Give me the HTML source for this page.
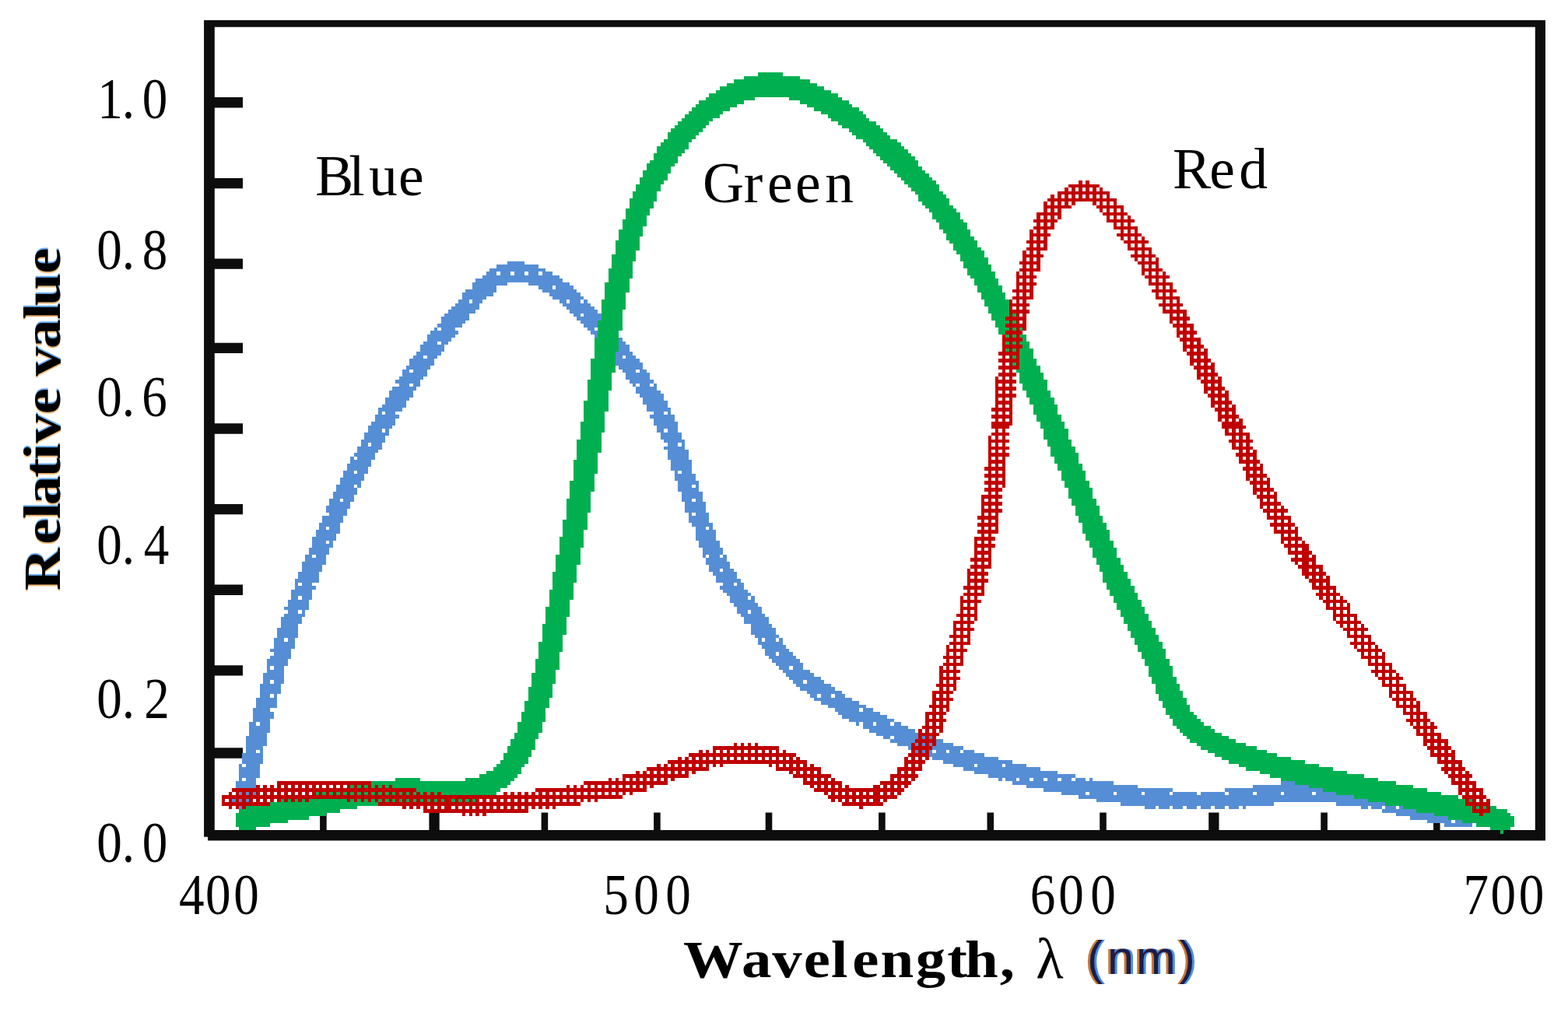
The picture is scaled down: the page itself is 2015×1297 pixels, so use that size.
<!DOCTYPE html>
<html lang="en"><head><meta charset="utf-8"><title>Relative value vs wavelength</title>
<style>
html,body{margin:0;padding:0;background:#fff}
body{width:2015px;height:1297px;overflow:hidden}
svg{display:block}
text{font-family:"Liberation Serif",serif;fill:#000}
.b{font-weight:bold}
.s{font-family:"Liberation Sans",sans-serif;fill:#1c1c4a}
</style></head><body>
<svg width="2015" height="1297" viewBox="0 0 2015 1297">
<rect width="2015" height="1297" fill="#fff"/>
<g fill="#0d0d0d"><path d="M262.1 26H1986V1080.6H267.1V1075.7H262.1ZM275.8 34.8V1067H1972.8V34.8Z" fill-rule="evenodd"/><path d="M275 125.1h37v13.4h-37zM275 228.9h37v13.4h-37zM275 332.4h37v13.4h-37zM275 440.7h37v13.4h-37zM275 544.3h37v13.4h-37zM275 647.9h37v13.4h-37zM275 751.6h37v13.4h-37zM275 855.2h37v13.4h-37zM275 961.3h37v13.4h-37zM411.1 1044.5h8.6v23h-8.6zM551.4 1044.5h13.3v23h-13.3zM695.6 1044.5h8.6v23h-8.6zM840.1 1044.5h8.6v23h-8.6zM983.7 1044.5h8.6v23h-8.6zM1129.1 1044.5h8.6v23h-8.6zM1268.5 1044.5h8.6v23h-8.6zM1413.2 1044.5h8.6v23h-8.6zM1553.2 1044.5h13.3v23h-13.3zM1697.3 1044.5h8.6v23h-8.6zM1842.0 1044.5h8.6v23h-8.6z"/></g>
<g transform="translate(2.5 -0.93) scale(4.4778 4.4878)" shape-rendering="crispEdges">
<path fill="#558ed5" d="M145 75h5v1h-5zM142 76h12v1h-12zM140 77h16v1h-16zM155 78h3v1h-3zM139 78h3v1h-3zM151 78h3v1h-3zM147 78h3v1h-3zM143 78h3v1h-3zM138 79h22v1h-22zM136 80h25v1h-25zM135 81h10v1h-10zM151 81h12v1h-12zM154 82h4v1h-4zM135 82h7v1h-7zM159 82h5v1h-5zM133 83h9v1h-9zM155 83h10v1h-10zM132 84h9v1h-9zM157 84h9v1h-9zM158 85h9v1h-9zM132 85h7v1h-7zM163 86h3v1h-3zM167 86h1v1h-1zM135 86h3v1h-3zM131 86h3v1h-3zM160 86h2v1h-2zM130 87h7v1h-7zM161 87h8v1h-8zM129 88h8v1h-8zM162 88h8v1h-8zM128 89h8v1h-8zM163 89h8v1h-8zM167 90h5v1h-5zM164 90h2v1h-2zM127 90h7v1h-7zM165 91h8v1h-8zM126 91h8v1h-8zM126 92h7v1h-7zM166 92h8v1h-8zM125 93h7v1h-7zM167 93h8v1h-8zM171 94h3v1h-3zM124 94h1v1h-1zM126 94h4v1h-4zM168 94h2v1h-2zM169 95h7v1h-7zM123 95h8v1h-8zM122 96h8v1h-8zM170 96h7v1h-7zM170 97h8v1h-8zM122 97h7v1h-7zM175 98h4v1h-4zM121 98h4v1h-4zM126 98h2v1h-2zM171 98h3v1h-3zM172 99h8v1h-8zM120 99h7v2h-7zM173 100h7v1h-7zM174 101h7v1h-7zM119 101h7v1h-7zM122 102h3v1h-3zM179 102h3v1h-3zM118 102h3v1h-3zM175 102h3v1h-3zM176 103h7v1h-7zM117 103h7v2h-7zM176 104h8v1h-8zM177 105h7v1h-7zM116 105h7v1h-7zM178 106h4v1h-4zM183 106h2v1h-2zM115 106h2v1h-2zM118 106h4v1h-4zM115 107h7v1h-7zM179 107h7v2h-7zM114 108h7v1h-7zM180 109h7v1h-7zM113 109h7v1h-7zM181 110h1v1h-1zM183 110h3v1h-3zM114 110h3v1h-3zM118 110h2v1h-2zM187 110h1v1h-1zM112 111h7v1h-7zM182 111h6v1h-6zM182 112h7v1h-7zM111 112h7v2h-7zM183 113h7v1h-7zM110 114h7v1h-7zM184 114h6v1h-6zM110 115h6v1h-6zM184 115h7v1h-7zM109 116h7v1h-7zM185 116h6v1h-6zM185 117h7v1h-7zM108 117h7v1h-7zM187 118h3v1h-3zM191 118h1v1h-1zM110 118h3v1h-3zM108 118h1v1h-1zM107 119h7v1h-7zM186 119h7v1h-7zM107 120h6v1h-6zM187 120h6v1h-6zM106 121h7v1h-7zM187 121h7v1h-7zM188 122h6v1h-6zM105 122h7v1h-7zM105 123h4v1h-4zM110 123h1v1h-1zM188 123h2v1h-2zM191 123h3v1h-3zM104 124h7v1h-7zM189 124h6v2h-6zM104 125h6v1h-6zM190 126h6v1h-6zM103 126h7v1h-7zM103 127h2v1h-2zM106 127h3v1h-3zM191 127h3v1h-3zM195 127h1v1h-1zM102 128h7v1h-7zM190 128h6v1h-6zM102 129h6v1h-6zM101 130h6v1h-6zM191 129h6v3h-6zM102 131h5v1h-5zM100 131h1v1h-1zM100 132h6v1h-6zM99 133h7v1h-7zM192 132h6v3h-6zM99 134h6v1h-6zM195 135h3v1h-3zM193 135h1v1h-1zM98 135h3v1h-3zM102 135h3v1h-3zM98 136h6v1h-6zM193 136h6v2h-6zM97 137h7v1h-7zM194 138h6v1h-6zM97 138h6v1h-6zM96 139h5v1h-5zM199 139h1v1h-1zM102 139h1v1h-1zM194 139h4v1h-4zM96 140h6v1h-6zM194 140h6v1h-6zM95 141h7v1h-7zM195 141h6v2h-6zM95 142h6v1h-6zM195 143h3v1h-3zM98 143h3v1h-3zM199 143h2v1h-2zM94 143h3v1h-3zM94 144h6v1h-6zM93 145h7v1h-7zM196 144h6v3h-6zM93 146h6v1h-6zM94 147h5v1h-5zM197 147h1v1h-1zM199 147h4v1h-4zM197 148h6v2h-6zM92 148h6v2h-6zM91 150h6v1h-6zM198 150h6v1h-6zM199 151h3v1h-3zM91 151h2v1h-2zM203 151h1v1h-1zM94 151h3v1h-3zM90 152h7v1h-7zM90 153h6v1h-6zM199 152h6v3h-6zM89 154h7v1h-7zM89 155h4v1h-4zM94 155h1v1h-1zM200 155h6v2h-6zM89 156h6v1h-6zM201 157h6v2h-6zM88 157h6v2h-6zM203 159h3v1h-3zM207 159h1v1h-1zM87 159h2v1h-2zM90 159h3v1h-3zM201 159h1v1h-1zM87 160h6v1h-6zM202 160h6v1h-6zM202 161h7v1h-7zM86 161h7v1h-7zM203 162h6v1h-6zM86 162h6v2h-6zM203 163h3v1h-3zM207 163h3v1h-3zM204 164h7v1h-7zM85 164h6v2h-6zM205 165h6v1h-6zM84 166h7v1h-7zM205 166h7v1h-7zM84 167h1v1h-1zM86 167h3v1h-3zM207 167h3v1h-3zM211 167h2v1h-2zM206 168h7v1h-7zM84 168h6v1h-6zM207 169h7v1h-7zM83 169h6v2h-6zM208 170h7v1h-7zM86 171h3v1h-3zM215 171h1v1h-1zM209 171h5v1h-5zM83 171h2v1h-2zM209 172h7v1h-7zM82 172h6v2h-6zM210 173h7v1h-7zM211 174h7v1h-7zM81 174h7v1h-7zM211 175h3v1h-3zM215 175h3v1h-3zM82 175h3v1h-3zM86 175h1v1h-1zM212 176h7v1h-7zM81 176h6v1h-6zM80 177h6v2h-6zM213 177h7v2h-7zM80 179h5v1h-5zM215 179h6v1h-6zM215 180h7v2h-7zM79 180h6v3h-6zM216 182h7v1h-7zM223 183h1v1h-1zM78 183h3v1h-3zM82 183h2v1h-2zM219 183h3v1h-3zM217 183h1v1h-1zM217 184h7v1h-7zM78 184h6v2h-6zM218 185h7v1h-7zM77 186h6v1h-6zM219 186h7v1h-7zM78 187h5v1h-5zM223 187h4v1h-4zM219 187h3v1h-3zM77 188h6v1h-6zM220 188h8v1h-8zM221 189h8v1h-8zM76 189h6v2h-6zM222 190h8v1h-8zM78 191h3v1h-3zM227 191h3v1h-3zM223 191h3v1h-3zM76 191h1v1h-1zM76 192h5v1h-5zM224 192h8v1h-8zM225 193h8v1h-8zM75 193h6v2h-6zM226 194h9v1h-9zM78 195h3v1h-3zM227 195h3v1h-3zM231 195h5v1h-5zM75 195h2v1h-2zM228 196h10v1h-10zM229 197h10v1h-10zM74 196h6v3h-6zM231 198h10v1h-10zM239 199h3v1h-3zM74 199h3v1h-3zM232 199h2v1h-2zM235 199h3v1h-3zM78 199h1v1h-1zM233 200h11v1h-11zM235 201h11v1h-11zM73 200h6v3h-6zM237 202h11v1h-11zM72 203h5v1h-5zM247 203h3v1h-3zM239 203h7v1h-7zM240 204h12v1h-12zM72 204h6v2h-6zM241 205h13v1h-13zM72 206h5v1h-5zM243 206h13v1h-13zM251 207h4v1h-4zM245 207h1v1h-1zM247 207h3v1h-3zM71 207h2v1h-2zM74 207h3v1h-3zM256 207h2v1h-2zM247 208h13v1h-13zM71 208h6v2h-6zM249 209h13v1h-13zM251 210h14v1h-14zM71 210h5v1h-5zM264 211h3v1h-3zM256 211h7v1h-7zM253 211h2v1h-2zM255 212h15v1h-15zM70 211h6v3h-6zM257 213h16v1h-16zM260 214h16v1h-16zM70 214h5v1h-5zM74 215h1v1h-1zM272 215h3v1h-3zM70 215h3v1h-3zM276 215h3v1h-3zM268 215h3v1h-3zM264 215h3v1h-3zM262 215h1v1h-1zM265 216h17v1h-17zM267 217h19v1h-19zM69 216h6v3h-6zM270 218h20v1h-20zM68 219h1v1h-1zM280 219h7v1h-7zM288 219h6v1h-6zM273 219h6v1h-6zM70 219h4v1h-4zM276 220h22v1h-22zM279 221h24v1h-24zM68 220h6v3h-6zM283 222h25v1h-25zM68 223h1v1h-1zM286 223h1v1h-1zM288 223h3v1h-3zM300 223h3v1h-3zM70 223h3v1h-3zM296 223h3v1h-3zM308 223h3v1h-3zM292 223h3v1h-3zM304 223h3v1h-3zM312 223h1v1h-1zM367 224h13v1h-13zM290 224h29v1h-29zM359 225h30v1h-30zM294 225h32v1h-32zM67 224h6v3h-6zM351 226h44v1h-44zM299 226h37v1h-37zM312 227h7v1h-7zM352 227h7v1h-7zM336 227h7v1h-7zM320 227h7v1h-7zM304 227h7v1h-7zM70 227h3v1h-3zM385 227h7v1h-7zM393 227h7v1h-7zM360 227h7v1h-7zM344 227h7v1h-7zM328 227h7v1h-7zM377 227h7v1h-7zM67 227h2v1h-2zM368 227h8v1h-8zM67 228h5v1h-5zM309 228h95v1h-95zM314 229h94v1h-94zM66 229h6v2h-6zM383 230h30v1h-30zM321 230h44v1h-44zM409 231h3v1h-3zM413 231h3v1h-3zM336 231h3v1h-3zM421 231h1v1h-1zM417 231h3v1h-3zM393 231h3v1h-3zM340 231h3v1h-3zM344 231h3v1h-3zM397 231h3v1h-3zM356 231h1v1h-1zM401 231h3v1h-3zM348 231h3v1h-3zM67 231h2v1h-2zM328 231h3v1h-3zM70 231h1v1h-1zM405 231h3v1h-3zM352 231h3v1h-3zM332 231h3v1h-3zM390 231h2v1h-2zM69 232h1v1h-1zM396 232h27v1h-27zM400 233h24v1h-24zM404 234h20v1h-20zM417 235h6v1h-6zM409 235h7v1h-7zM414 236h8v1h-8z"/>
<path fill="#00b050" d="M217 21h7v1h-7zM213 22h16v1h-16zM210 23h22v1h-22zM208 24h26v1h-26zM206 25h30v1h-30zM205 26h33v1h-33zM203 27h37v1h-37zM202 28h14v1h-14zM226 28h15v1h-15zM229 29h14v1h-14zM200 29h13v1h-13zM231 30h13v1h-13zM199 30h12v1h-12zM198 31h11v1h-11zM233 31h13v1h-13zM197 32h10v1h-10zM235 32h12v1h-12zM237 33h11v1h-11zM196 33h10v1h-10zM195 34h9v1h-9zM238 34h11v1h-11zM240 35h11v1h-11zM194 35h9v1h-9zM193 36h9v1h-9zM241 36h11v1h-11zM243 37h10v1h-10zM192 37h9v1h-9zM244 38h10v1h-10zM191 38h9v1h-9zM191 39h8v1h-8zM245 39h10v1h-10zM190 40h8v1h-8zM247 40h10v1h-10zM189 41h8v1h-8zM248 41h10v1h-10zM249 42h10v1h-10zM188 42h9v1h-9zM188 43h8v1h-8zM250 43h10v1h-10zM187 44h8v1h-8zM251 44h10v1h-10zM252 45h10v1h-10zM187 45h7v1h-7zM186 46h8v1h-8zM253 46h10v1h-10zM254 47h9v1h-9zM185 47h8v1h-8zM185 48h7v1h-7zM255 48h9v1h-9zM184 49h8v1h-8zM256 49h9v1h-9zM257 50h9v1h-9zM184 50h7v1h-7zM258 51h9v1h-9zM183 51h8v1h-8zM183 52h7v1h-7zM259 52h9v1h-9zM260 53h9v1h-9zM182 53h7v2h-7zM261 54h8v1h-8zM262 55h8v1h-8zM181 55h7v2h-7zM263 56h8v1h-8zM263 57h9v1h-9zM180 57h8v1h-8zM264 58h8v1h-8zM180 58h7v2h-7zM265 59h8v1h-8zM266 60h8v1h-8zM179 60h7v2h-7zM267 61h8v2h-8zM179 62h6v1h-6zM268 63h8v1h-8zM178 63h7v2h-7zM269 64h8v2h-8zM178 65h6v1h-6zM270 66h8v1h-8zM177 66h7v2h-7zM271 67h7v1h-7zM177 68h6v1h-6zM271 68h8v1h-8zM272 69h8v1h-8zM273 70h7v1h-7zM176 69h7v3h-7zM273 71h8v1h-8zM274 72h8v1h-8zM176 72h6v1h-6zM275 73h7v1h-7zM175 73h7v2h-7zM275 74h8v1h-8zM276 75h7v1h-7zM175 75h6v2h-6zM276 76h8v1h-8zM277 77h7v1h-7zM277 78h8v1h-8zM174 77h7v3h-7zM278 79h7v1h-7zM174 80h6v1h-6zM279 80h7v2h-7zM173 81h7v3h-7zM280 82h7v2h-7zM173 84h6v2h-6zM281 84h7v2h-7zM282 86h7v2h-7zM172 86h7v3h-7zM283 88h7v2h-7zM172 89h6v3h-6zM284 90h7v2h-7zM285 92h7v2h-7zM171 92h7v3h-7zM286 94h7v2h-7zM171 95h6v2h-6zM287 96h7v2h-7zM287 98h8v1h-8zM288 99h7v1h-7zM170 97h7v4h-7zM288 100h8v1h-8zM289 101h7v2h-7zM170 101h6v2h-6zM290 103h7v2h-7zM169 103h7v4h-7zM291 105h7v2h-7zM169 107h6v2h-6zM292 107h7v2h-7zM292 109h8v1h-8zM168 109h7v3h-7zM293 110h7v2h-7zM294 112h7v2h-7zM168 112h6v3h-6zM295 114h7v2h-7zM167 115h7v3h-7zM296 116h7v3h-7zM167 118h6v3h-6zM297 119h7v2h-7zM298 121h7v2h-7zM166 121h7v3h-7zM299 123h7v3h-7zM166 124h6v2h-6zM300 126h7v2h-7zM165 126h7v4h-7zM301 128h7v2h-7zM301 130h8v1h-8zM165 130h6v2h-6zM302 131h7v2h-7zM303 133h7v2h-7zM164 132h7v4h-7zM304 135h7v3h-7zM164 136h6v2h-6zM305 138h7v2h-7zM163 138h7v3h-7zM306 140h7v3h-7zM163 141h6v2h-6zM307 143h7v2h-7zM162 143h7v4h-7zM308 145h7v3h-7zM162 147h6v2h-6zM309 148h7v2h-7zM161 149h7v3h-7zM310 150h7v2h-7zM310 152h8v1h-8zM161 152h6v2h-6zM311 153h7v2h-7zM160 154h7v3h-7zM312 155h7v2h-7zM160 157h6v2h-6zM313 157h7v3h-7zM159 159h7v3h-7zM314 160h7v2h-7zM315 162h7v2h-7zM159 162h6v2h-6zM316 164h7v2h-7zM158 164h7v3h-7zM316 166h8v1h-8zM317 167h7v1h-7zM158 167h6v2h-6zM317 168h8v1h-8zM318 169h7v1h-7zM318 170h8v1h-8zM157 169h7v3h-7zM319 171h7v1h-7zM319 172h8v1h-8zM157 172h6v2h-6zM320 173h7v1h-7zM320 174h8v1h-8zM321 175h7v1h-7zM156 174h7v3h-7zM321 176h8v1h-8zM322 177h7v1h-7zM156 177h6v2h-6zM322 178h8v1h-8zM323 179h7v1h-7zM323 180h8v1h-8zM155 179h7v3h-7zM324 181h7v1h-7zM324 182h8v1h-8zM155 182h6v2h-6zM325 183h7v1h-7zM325 184h8v1h-8zM326 185h7v1h-7zM154 184h7v3h-7zM326 186h8v1h-8zM327 187h7v2h-7zM154 187h6v2h-6zM328 189h7v2h-7zM153 189h7v3h-7zM153 192h6v1h-6zM329 191h7v3h-7zM152 193h7v3h-7zM330 194h7v2h-7zM152 196h6v1h-6zM331 196h7v2h-7zM331 198h8v1h-8zM151 197h7v3h-7zM332 199h7v1h-7zM151 200h6v1h-6zM332 200h8v1h-8zM333 201h7v1h-7zM150 201h7v2h-7zM333 202h8v1h-8zM150 203h6v1h-6zM334 203h7v1h-7zM334 204h8v1h-8zM335 205h8v1h-8zM149 204h7v3h-7zM336 206h8v1h-8zM336 207h9v1h-9zM337 208h10v1h-10zM148 207h7v3h-7zM338 209h10v1h-10zM339 210h11v1h-11zM147 210h7v2h-7zM340 211h12v1h-12zM341 212h13v1h-13zM146 212h7v2h-7zM343 213h14v1h-14zM344 214h16v1h-16zM145 214h8v1h-8zM346 215h17v1h-17zM145 215h7v1h-7zM348 216h18v1h-18zM144 216h8v1h-8zM144 217h7v1h-7zM350 217h20v1h-20zM352 218h22v1h-22zM143 218h8v1h-8zM142 219h8v1h-8zM355 219h23v1h-23zM141 220h8v1h-8zM357 220h25v1h-25zM361 221h25v1h-25zM139 221h10v1h-10zM137 222h11v1h-11zM364 222h27v1h-27zM367 223h28v1h-28zM133 223h14v1h-14zM113 223h7v1h-7zM371 224h29v1h-29zM104 224h42v1h-42zM375 225h30v1h-30zM99 225h46v1h-46zM94 226h49v1h-49zM379 226h30v1h-30zM90 227h52v1h-52zM383 227h30v1h-30zM388 228h30v1h-30zM85 228h54v1h-54zM79 229h57v1h-57zM392 229h30v1h-30zM74 230h34v1h-34zM397 230h29v1h-29zM70 231h32v1h-32zM402 231h27v1h-27zM406 232h26v1h-26zM68 232h29v1h-29zM411 233h22v1h-22zM67 233h26v1h-26zM67 234h21v1h-21zM415 234h19v1h-19zM67 235h15v1h-15zM419 235h15v1h-15zM67 236h10v1h-10zM423 236h11v1h-11zM427 237h6v1h-6zM68 237h5v1h-5zM430 238h1v1h-1z"/>
<path fill="#c00000" d="M311 52h1v1h-1zM309 52h1v1h-1zM306 53h9v1h-9zM307 54h1v1h-1zM313 54h1v1h-1zM311 54h1v1h-1zM309 54h1v1h-1zM315 54h1v1h-1zM305 54h1v1h-1zM303 55h15v1h-15zM307 56h1v1h-1zM313 56h1v1h-1zM303 56h1v1h-1zM311 56h1v1h-1zM309 56h1v1h-1zM315 56h1v1h-1zM305 56h1v1h-1zM317 56h1v1h-1zM301 56h1v1h-1zM300 57h20v1h-20zM307 58h1v1h-1zM313 58h1v1h-1zM319 58h1v1h-1zM303 58h1v1h-1zM315 58h1v1h-1zM299 58h1v1h-1zM305 58h1v1h-1zM317 58h1v1h-1zM301 58h1v1h-1zM299 59h8v1h-8zM314 59h8v1h-8zM321 60h1v1h-1zM319 60h1v1h-1zM303 60h1v1h-1zM315 60h1v1h-1zM299 60h1v1h-1zM317 60h1v1h-1zM301 60h1v1h-1zM316 61h7v1h-7zM297 61h7v1h-7zM321 62h1v1h-1zM297 62h1v1h-1zM303 62h1v1h-1zM319 62h1v1h-1zM323 62h1v1h-1zM299 62h1v1h-1zM317 62h1v1h-1zM301 62h1v1h-1zM317 63h8v1h-8zM296 63h7v1h-7zM321 64h1v1h-1zM319 64h1v1h-1zM297 64h1v1h-1zM323 64h1v1h-1zM299 64h1v1h-1zM301 64h1v1h-1zM319 65h7v1h-7zM296 65h6v1h-6zM321 66h1v1h-1zM297 66h1v1h-1zM325 66h1v1h-1zM323 66h1v1h-1zM299 66h1v1h-1zM295 66h1v1h-1zM295 67h6v1h-6zM320 67h7v1h-7zM321 68h1v1h-1zM297 68h1v1h-1zM327 68h1v1h-1zM325 68h1v1h-1zM323 68h1v1h-1zM299 68h1v1h-1zM295 68h1v1h-1zM294 69h6v1h-6zM322 69h7v1h-7zM297 70h1v1h-1zM327 70h1v1h-1zM325 70h1v1h-1zM323 70h1v1h-1zM299 70h1v1h-1zM295 70h1v1h-1zM294 71h6v1h-6zM323 71h7v1h-7zM329 72h1v1h-1zM297 72h1v1h-1zM327 72h1v1h-1zM325 72h1v1h-1zM293 72h1v1h-1zM295 72h1v1h-1zM324 73h7v1h-7zM293 73h6v1h-6zM329 74h1v1h-1zM297 74h1v1h-1zM327 74h1v1h-1zM325 74h1v1h-1zM293 74h1v1h-1zM295 74h1v1h-1zM331 74h1v1h-1zM326 75h6v1h-6zM292 75h6v1h-6zM329 76h1v1h-1zM297 76h1v1h-1zM327 76h1v1h-1zM293 76h1v1h-1zM295 76h1v1h-1zM331 76h1v1h-1zM327 77h6v1h-6zM292 77h6v1h-6zM291 78h1v1h-1zM329 78h1v1h-1zM327 78h1v1h-1zM293 78h1v1h-1zM333 78h1v1h-1zM295 78h1v1h-1zM331 78h1v1h-1zM291 79h6v1h-6zM328 79h7v1h-7zM291 80h1v1h-1zM329 80h1v1h-1zM293 80h1v1h-1zM333 80h1v1h-1zM295 80h1v1h-1zM331 80h1v1h-1zM291 81h6v1h-6zM329 81h7v1h-7zM291 82h1v1h-1zM293 82h1v1h-1zM335 82h1v1h-1zM295 82h1v1h-1zM333 82h1v1h-1zM331 82h1v1h-1zM330 83h7v1h-7zM290 83h6v1h-6zM291 84h1v1h-1zM293 84h1v1h-1zM335 84h1v1h-1zM295 84h1v1h-1zM333 84h1v1h-1zM331 84h1v1h-1zM290 85h6v1h-6zM331 85h7v1h-7zM291 86h1v1h-1zM337 86h1v1h-1zM293 86h1v1h-1zM289 86h1v1h-1zM335 86h1v1h-1zM333 86h1v1h-1zM289 87h6v1h-6zM332 87h7v1h-7zM291 88h1v1h-1zM337 88h1v1h-1zM293 88h1v1h-1zM289 88h1v1h-1zM335 88h1v1h-1zM333 88h1v1h-1zM289 89h6v1h-6zM333 89h7v1h-7zM291 90h1v1h-1zM337 90h1v1h-1zM293 90h1v1h-1zM339 90h1v1h-1zM289 90h1v1h-1zM335 90h1v1h-1zM288 91h6v1h-6zM335 91h6v1h-6zM291 92h1v1h-1zM337 92h1v1h-1zM293 92h1v1h-1zM339 92h1v1h-1zM289 92h1v1h-1zM335 92h1v1h-1zM288 93h6v1h-6zM336 93h6v1h-6zM291 94h1v1h-1zM337 94h1v1h-1zM341 94h1v1h-1zM339 94h1v1h-1zM293 94h1v1h-1zM289 94h1v1h-1zM337 95h6v1h-6zM288 95h5v1h-5zM291 96h1v1h-1zM337 96h1v1h-1zM341 96h1v1h-1zM287 96h1v1h-1zM339 96h1v1h-1zM289 96h1v1h-1zM338 97h6v1h-6zM287 97h6v1h-6zM291 98h1v1h-1zM341 98h1v1h-1zM287 98h1v1h-1zM339 98h1v1h-1zM289 98h1v1h-1zM343 98h1v1h-1zM287 99h6v1h-6zM339 99h6v1h-6zM345 100h1v1h-1zM291 100h1v1h-1zM341 100h1v1h-1zM287 100h1v1h-1zM339 100h1v1h-1zM289 100h1v1h-1zM343 100h1v1h-1zM286 101h6v1h-6zM340 101h6v1h-6zM345 102h1v1h-1zM291 102h1v1h-1zM341 102h1v1h-1zM287 102h1v1h-1zM289 102h1v1h-1zM343 102h1v1h-1zM286 103h6v1h-6zM341 103h6v1h-6zM345 104h1v1h-1zM291 104h1v1h-1zM341 104h1v1h-1zM287 104h1v1h-1zM289 104h1v1h-1zM343 104h1v1h-1zM347 104h1v1h-1zM286 105h6v1h-6zM342 105h6v1h-6zM345 106h1v1h-1zM287 106h1v1h-1zM289 106h1v1h-1zM343 106h1v1h-1zM347 106h1v1h-1zM286 107h5v1h-5zM343 107h6v1h-6zM345 108h1v1h-1zM349 108h1v1h-1zM287 108h1v1h-1zM289 108h1v1h-1zM285 108h1v1h-1zM343 108h1v1h-1zM347 108h1v1h-1zM344 109h6v1h-6zM285 109h6v1h-6zM345 110h1v1h-1zM349 110h1v1h-1zM287 110h1v1h-1zM289 110h1v1h-1zM285 110h1v1h-1zM347 110h1v1h-1zM345 111h6v1h-6zM285 111h6v1h-6zM345 112h1v1h-1zM351 112h1v1h-1zM349 112h1v1h-1zM287 112h1v1h-1zM289 112h1v1h-1zM285 112h1v1h-1zM347 112h1v1h-1zM346 113h6v1h-6zM285 113h6v1h-6zM351 114h1v1h-1zM349 114h1v1h-1zM287 114h1v1h-1zM289 114h1v1h-1zM285 114h1v1h-1zM347 114h1v1h-1zM285 115h5v1h-5zM347 115h6v1h-6zM353 116h1v1h-1zM351 116h1v1h-1zM349 116h1v1h-1zM287 116h1v1h-1zM289 116h1v1h-1zM285 116h1v1h-1zM347 116h1v1h-1zM348 117h6v1h-6zM284 117h6v1h-6zM353 118h1v1h-1zM351 118h1v1h-1zM349 118h1v1h-1zM287 118h1v1h-1zM289 118h1v1h-1zM285 118h1v1h-1zM349 119h6v1h-6zM284 119h6v1h-6zM353 120h1v1h-1zM351 120h1v1h-1zM349 120h1v1h-1zM287 120h1v1h-1zM289 120h1v1h-1zM285 120h1v1h-1zM355 120h1v1h-1zM284 121h6v1h-6zM350 121h6v1h-6zM350 122h7v1h-7zM284 122h5v1h-5zM353 123h1v1h-1zM351 123h1v1h-1zM287 123h1v1h-1zM285 123h1v1h-1zM355 123h1v1h-1zM284 124h5v1h-5zM351 124h7v1h-7zM353 125h1v1h-1zM287 125h1v1h-1zM283 125h1v1h-1zM285 125h1v1h-1zM357 125h1v1h-1zM355 125h1v1h-1zM283 126h6v1h-6zM352 126h7v1h-7zM353 127h1v1h-1zM287 127h1v1h-1zM283 127h1v1h-1zM285 127h1v1h-1zM357 127h1v1h-1zM355 127h1v1h-1zM283 128h6v1h-6zM353 128h6v1h-6zM287 129h1v1h-1zM283 129h1v1h-1zM285 129h1v1h-1zM359 129h1v1h-1zM357 129h1v1h-1zM355 129h1v1h-1zM283 130h6v1h-6zM354 130h6v1h-6zM287 131h1v1h-1zM283 131h1v1h-1zM285 131h1v1h-1zM359 131h1v1h-1zM357 131h1v1h-1zM355 131h1v1h-1zM355 132h6v1h-6zM283 132h5v1h-5zM287 133h1v1h-1zM361 133h1v1h-1zM283 133h1v1h-1zM285 133h1v1h-1zM359 133h1v1h-1zM357 133h1v1h-1zM282 134h6v1h-6zM356 134h6v1h-6zM287 135h1v1h-1zM361 135h1v1h-1zM283 135h1v1h-1zM285 135h1v1h-1zM359 135h1v1h-1zM357 135h1v1h-1zM357 136h6v1h-6zM282 136h6v1h-6zM287 137h1v1h-1zM361 137h1v1h-1zM283 137h1v1h-1zM285 137h1v1h-1zM359 137h1v1h-1zM357 137h1v1h-1zM363 137h1v1h-1zM282 138h6v1h-6zM358 138h6v1h-6zM287 139h1v1h-1zM361 139h1v1h-1zM283 139h1v1h-1zM285 139h1v1h-1zM359 139h1v1h-1zM363 139h1v1h-1zM359 140h6v1h-6zM282 140h5v1h-5zM365 141h1v1h-1zM361 141h1v1h-1zM283 141h1v1h-1zM285 141h1v1h-1zM359 141h1v1h-1zM363 141h1v1h-1zM281 142h6v1h-6zM360 142h6v1h-6zM281 143h1v1h-1zM365 143h1v1h-1zM361 143h1v1h-1zM283 143h1v1h-1zM285 143h1v1h-1zM363 143h1v1h-1zM281 144h6v1h-6zM361 144h6v1h-6zM281 145h1v1h-1zM365 145h1v1h-1zM361 145h1v1h-1zM283 145h1v1h-1zM285 145h1v1h-1zM367 145h1v1h-1zM363 145h1v1h-1zM281 146h6v1h-6zM362 146h7v1h-7zM365 147h1v1h-1zM281 147h1v1h-1zM283 147h1v1h-1zM285 147h1v1h-1zM367 147h1v1h-1zM363 147h1v1h-1zM280 148h6v1h-6zM363 148h7v1h-7zM365 149h1v1h-1zM281 149h1v1h-1zM283 149h1v1h-1zM285 149h1v1h-1zM367 149h1v1h-1zM369 149h1v1h-1zM280 150h6v1h-6zM364 150h7v1h-7zM365 151h1v1h-1zM281 151h1v1h-1zM283 151h1v1h-1zM285 151h1v1h-1zM367 151h1v1h-1zM371 151h1v1h-1zM369 151h1v1h-1zM280 152h6v1h-6zM365 152h7v1h-7zM281 153h1v1h-1zM283 153h1v1h-1zM367 153h1v1h-1zM371 153h1v1h-1zM369 153h1v1h-1zM367 154h6v1h-6zM279 154h6v1h-6zM281 155h1v1h-1zM283 155h1v1h-1zM373 155h1v1h-1zM367 155h1v1h-1zM371 155h1v1h-1zM279 155h1v1h-1zM369 155h1v1h-1zM279 156h6v1h-6zM368 156h7v1h-7zM281 157h1v1h-1zM373 157h2v1h-2zM283 157h1v1h-1zM371 157h1v1h-1zM279 157h1v1h-1zM369 157h1v1h-1zM279 158h5v1h-5zM369 158h7v1h-7zM373 159h2v1h-2zM281 159h1v1h-1zM283 159h1v1h-1zM376 159h1v1h-1zM371 159h1v1h-1zM279 159h1v1h-1zM278 160h6v1h-6zM370 160h7v1h-7zM373 161h2v1h-2zM281 161h1v1h-1zM283 161h1v1h-1zM376 161h1v1h-1zM371 161h1v1h-1zM279 161h1v1h-1zM372 162h7v1h-7zM278 162h6v1h-6zM373 163h2v1h-2zM281 163h1v1h-1zM277 163h1v1h-1zM378 163h1v1h-1zM376 163h1v1h-1zM279 163h1v1h-1zM373 164h7v1h-7zM277 164h6v1h-6zM380 165h1v1h-1zM281 165h1v1h-1zM279 165h1v1h-1zM277 165h1v1h-1zM378 165h1v1h-1zM376 165h1v1h-1zM374 165h1v1h-1zM375 166h6v1h-6zM277 166h6v1h-6zM380 167h1v1h-1zM281 167h1v1h-1zM277 167h1v1h-1zM378 167h1v1h-1zM376 167h1v1h-1zM279 167h1v1h-1zM276 168h6v1h-6zM376 168h7v1h-7zM380 169h1v1h-1zM281 169h1v1h-1zM382 169h1v1h-1zM277 169h1v1h-1zM378 169h1v1h-1zM279 169h1v1h-1zM276 170h6v1h-6zM377 170h7v1h-7zM380 171h1v1h-1zM275 171h1v1h-1zM382 171h1v1h-1zM277 171h1v1h-1zM378 171h1v1h-1zM384 171h1v1h-1zM279 171h1v1h-1zM275 172h6v1h-6zM379 172h7v1h-7zM380 173h1v1h-1zM386 173h1v1h-1zM275 173h1v1h-1zM382 173h1v1h-1zM277 173h1v1h-1zM384 173h1v1h-1zM279 173h1v1h-1zM275 174h5v1h-5zM380 174h7v1h-7zM386 175h1v1h-1zM275 175h1v1h-1zM382 175h1v1h-1zM277 175h1v1h-1zM384 175h1v1h-1zM279 175h1v1h-1zM382 176h7v1h-7zM274 176h6v1h-6zM386 177h1v1h-1zM275 177h1v1h-1zM382 177h1v1h-1zM277 177h1v1h-1zM388 177h1v1h-1zM384 177h1v1h-1zM279 177h1v1h-1zM383 178h7v1h-7zM273 178h6v1h-6zM386 179h1v1h-1zM275 179h1v1h-1zM277 179h1v1h-1zM273 179h1v1h-1zM388 179h1v1h-1zM384 179h1v1h-1zM390 179h1v1h-1zM273 180h6v1h-6zM385 180h7v1h-7zM386 181h1v1h-1zM275 181h1v1h-1zM277 181h1v1h-1zM273 181h1v1h-1zM388 181h1v1h-1zM390 181h1v1h-1zM272 182h6v1h-6zM386 182h7v1h-7zM275 183h1v1h-1zM392 183h1v1h-1zM277 183h1v1h-1zM273 183h1v1h-1zM388 183h1v1h-1zM390 183h1v1h-1zM272 184h6v1h-6zM387 184h7v1h-7zM275 185h1v1h-1zM392 185h1v1h-1zM271 185h1v1h-1zM394 185h1v1h-1zM273 185h1v1h-1zM388 185h1v1h-1zM390 185h1v1h-1zM389 186h7v1h-7zM271 186h6v1h-6zM275 187h1v1h-1zM392 187h1v1h-1zM271 187h1v1h-1zM394 187h1v1h-1zM273 187h1v1h-1zM390 187h1v1h-1zM396 187h1v1h-1zM270 188h6v1h-6zM390 188h7v1h-7zM275 189h1v1h-1zM392 189h1v1h-1zM271 189h1v1h-1zM394 189h1v1h-1zM273 189h1v1h-1zM396 189h1v1h-1zM270 190h6v1h-6zM392 190h7v1h-7zM269 191h1v1h-1zM398 191h1v1h-1zM271 191h1v1h-1zM394 191h1v1h-1zM273 191h1v1h-1zM396 191h1v1h-1zM393 192h7v1h-7zM269 192h6v1h-6zM269 193h1v1h-1zM398 193h1v1h-1zM271 193h1v1h-1zM394 193h1v1h-1zM273 193h1v1h-1zM400 193h1v1h-1zM396 193h1v1h-1zM395 194h7v1h-7zM269 194h6v1h-6zM269 195h1v1h-1zM398 195h1v1h-1zM271 195h1v1h-1zM273 195h1v1h-1zM400 195h1v1h-1zM396 195h1v1h-1zM268 196h6v1h-6zM396 196h7v1h-7zM269 197h1v1h-1zM402 197h1v1h-1zM398 197h1v1h-1zM271 197h1v1h-1zM273 197h1v1h-1zM400 197h1v1h-1zM267 198h6v1h-6zM398 198h7v1h-7zM269 199h1v1h-1zM402 199h1v1h-1zM398 199h1v1h-1zM271 199h1v1h-1zM404 199h1v1h-1zM400 199h1v1h-1zM267 199h1v1h-1zM267 200h6v1h-6zM399 200h7v1h-7zM269 201h1v1h-1zM402 201h1v1h-1zM271 201h1v1h-1zM406 201h1v1h-1zM404 201h1v1h-1zM400 201h1v1h-1zM267 201h1v1h-1zM400 202h7v1h-7zM266 202h6v1h-6zM269 203h1v1h-1zM402 203h1v1h-1zM271 203h1v1h-1zM406 203h1v1h-1zM404 203h1v1h-1zM267 203h1v1h-1zM402 204h7v1h-7zM265 204h6v1h-6zM269 205h1v1h-1zM408 205h1v1h-1zM265 205h1v1h-1zM406 205h1v1h-1zM404 205h1v1h-1zM267 205h1v1h-1zM403 206h7v1h-7zM265 206h6v1h-6zM269 207h1v1h-1zM408 207h1v1h-1zM265 207h1v1h-1zM410 207h1v1h-1zM406 207h1v1h-1zM404 207h1v1h-1zM267 207h1v1h-1zM264 208h6v1h-6zM405 208h7v1h-7zM269 209h1v1h-1zM408 209h1v1h-1zM265 209h1v1h-1zM410 209h1v1h-1zM406 209h1v1h-1zM267 209h1v1h-1zM263 209h1v1h-1zM406 210h7v1h-7zM263 210h6v1h-6zM408 211h1v1h-1zM265 211h1v1h-1zM410 211h1v1h-1zM267 211h1v1h-1zM412 211h1v1h-1zM263 211h1v1h-1zM408 212h7v1h-7zM262 212h6v1h-6zM210 213h1v1h-1zM408 213h1v1h-1zM216 213h1v1h-1zM265 213h1v1h-1zM410 213h1v1h-1zM212 213h1v1h-1zM261 213h1v1h-1zM214 213h1v1h-1zM414 213h1v1h-1zM267 213h1v1h-1zM412 213h1v1h-1zM263 213h1v1h-1zM204 214h19v1h-19zM409 214h7v1h-7zM261 214h6v1h-6zM210 215h1v1h-1zM265 215h1v1h-1zM410 215h1v1h-1zM212 215h1v1h-1zM214 215h1v1h-1zM412 215h1v1h-1zM216 215h1v1h-1zM218 215h1v1h-1zM414 215h1v1h-1zM416 215h1v1h-1zM220 215h1v1h-1zM200 215h1v1h-1zM222 215h1v1h-1zM202 215h1v1h-1zM224 215h1v1h-1zM204 215h1v1h-1zM206 215h1v1h-1zM261 215h1v1h-1zM208 215h1v1h-1zM263 215h1v1h-1zM260 216h6v1h-6zM197 216h31v1h-31zM410 216h7v1h-7zM210 217h1v1h-1zM265 217h1v1h-1zM212 217h1v1h-1zM214 217h1v1h-1zM412 217h1v1h-1zM194 217h1v1h-1zM216 217h1v1h-1zM218 217h1v1h-1zM414 217h1v1h-1zM196 217h1v1h-1zM416 217h1v1h-1zM198 217h1v1h-1zM220 217h1v1h-1zM200 217h1v1h-1zM222 217h1v1h-1zM202 217h1v1h-1zM224 217h1v1h-1zM204 217h1v1h-1zM226 217h1v1h-1zM259 217h1v1h-1zM206 217h1v1h-1zM228 217h1v1h-1zM261 217h1v1h-1zM208 217h1v1h-1zM263 217h1v1h-1zM191 218h40v1h-40zM259 218h6v1h-6zM412 218h7v1h-7zM188 219h1v1h-1zM232 219h1v1h-1zM190 219h1v1h-1zM192 219h1v1h-1zM194 219h1v1h-1zM414 219h1v1h-1zM196 219h1v1h-1zM416 219h1v1h-1zM198 219h1v1h-1zM220 219h1v1h-1zM418 219h1v1h-1zM200 219h1v1h-1zM222 219h1v1h-1zM202 219h1v1h-1zM224 219h1v1h-1zM204 219h1v1h-1zM226 219h1v1h-1zM259 219h1v1h-1zM206 219h1v1h-1zM228 219h1v1h-1zM261 219h1v1h-1zM230 219h1v1h-1zM263 219h1v1h-1zM185 220h18v1h-18zM413 220h7v1h-7zM257 220h7v1h-7zM222 220h13v1h-13zM188 221h1v1h-1zM232 221h1v1h-1zM190 221h1v1h-1zM234 221h1v1h-1zM192 221h1v1h-1zM194 221h1v1h-1zM414 221h1v1h-1zM416 221h1v1h-1zM196 221h1v1h-1zM198 221h1v1h-1zM418 221h1v1h-1zM420 221h1v1h-1zM257 221h1v1h-1zM182 221h1v1h-1zM226 221h1v1h-1zM259 221h1v1h-1zM228 221h1v1h-1zM261 221h1v1h-1zM186 221h1v1h-1zM184 221h1v1h-1zM230 221h1v1h-1zM415 222h7v1h-7zM227 222h11v1h-11zM255 222h8v1h-8zM178 222h19v1h-19zM188 223h1v1h-1zM232 223h1v1h-1zM190 223h1v1h-1zM234 223h1v1h-1zM192 223h1v1h-1zM236 223h1v1h-1zM238 223h1v1h-1zM174 223h1v1h-1zM416 223h1v1h-1zM176 223h1v1h-1zM418 223h1v1h-1zM178 223h1v1h-1zM420 223h1v1h-1zM257 223h1v1h-1zM255 223h1v1h-1zM180 223h1v1h-1zM182 223h1v1h-1zM259 223h1v1h-1zM261 223h1v1h-1zM186 223h1v1h-1zM184 223h1v1h-1zM230 223h1v1h-1zM416 224h7v1h-7zM252 224h9v1h-9zM230 224h11v1h-11zM167 224h24v1h-24zM79 224h27v1h-27zM166 225h1v1h-1zM232 225h1v1h-1zM91 225h1v1h-1zM168 225h1v1h-1zM93 225h1v1h-1zM234 225h1v1h-1zM170 225h1v1h-1zM73 225h1v1h-1zM95 225h1v1h-1zM236 225h1v1h-1zM172 225h1v1h-1zM97 225h1v1h-1zM238 225h1v1h-1zM174 225h1v1h-1zM77 225h1v1h-1zM240 225h1v1h-1zM99 225h1v1h-1zM75 225h1v1h-1zM176 225h1v1h-1zM418 225h1v1h-1zM79 225h1v1h-1zM101 225h1v1h-1zM242 225h1v1h-1zM178 225h1v1h-1zM253 225h1v1h-1zM81 225h1v1h-1zM103 225h1v1h-1zM420 225h1v1h-1zM257 225h1v1h-1zM250 225h2v1h-2zM255 225h1v1h-1zM180 225h1v1h-1zM422 225h1v1h-1zM83 225h1v1h-1zM105 225h1v1h-1zM182 225h1v1h-1zM85 225h1v1h-1zM107 225h1v1h-1zM259 225h1v1h-1zM162 225h1v1h-1zM164 225h1v1h-1zM186 225h1v1h-1zM184 225h1v1h-1zM87 225h1v1h-1zM109 225h1v1h-1zM89 225h1v1h-1zM111 225h1v1h-1zM418 226h7v1h-7zM233 226h26v1h-26zM66 226h53v1h-53zM153 226h32v1h-32zM144 227h1v1h-1zM166 227h1v1h-1zM69 227h1v1h-1zM91 227h1v1h-1zM168 227h1v1h-1zM93 227h1v1h-1zM67 227h1v1h-1zM148 227h1v1h-1zM113 227h1v1h-1zM146 227h1v1h-1zM115 227h1v1h-1zM170 227h1v1h-1zM73 227h1v1h-1zM95 227h1v1h-1zM71 227h1v1h-1zM117 227h1v1h-1zM150 227h1v1h-1zM172 227h1v1h-1zM97 227h1v1h-1zM119 227h1v1h-1zM152 227h1v1h-1zM174 227h1v1h-1zM238 227h1v1h-1zM77 227h1v1h-1zM240 227h1v1h-1zM99 227h1v1h-1zM75 227h1v1h-1zM121 227h1v1h-1zM154 227h1v1h-1zM176 227h1v1h-1zM79 227h1v1h-1zM101 227h1v1h-1zM123 227h1v1h-1zM156 227h1v1h-1zM178 227h1v1h-1zM81 227h1v1h-1zM103 227h1v1h-1zM242 227h1v1h-1zM244 227h1v1h-1zM253 227h1v1h-1zM418 227h1v1h-1zM257 227h1v1h-1zM420 227h1v1h-1zM250 227h2v1h-2zM255 227h1v1h-1zM125 227h1v1h-1zM158 227h1v1h-1zM180 227h1v1h-1zM422 227h1v1h-1zM83 227h1v1h-1zM105 227h1v1h-1zM160 227h1v1h-1zM246 227h1v1h-1zM424 227h1v1h-1zM85 227h1v1h-1zM107 227h1v1h-1zM248 227h1v1h-1zM162 227h1v1h-1zM65 227h1v1h-1zM164 227h1v1h-1zM236 227h1v1h-1zM87 227h1v1h-1zM109 227h1v1h-1zM89 227h1v1h-1zM111 227h1v1h-1zM419 228h7v1h-7zM63 228h115v1h-115zM237 228h20v1h-20zM144 229h1v1h-1zM166 229h1v1h-1zM69 229h1v1h-1zM168 229h1v1h-1zM148 229h1v1h-1zM113 229h1v1h-1zM146 229h1v1h-1zM115 229h1v1h-1zM170 229h1v1h-1zM73 229h1v1h-1zM71 229h1v1h-1zM117 229h1v1h-1zM150 229h1v1h-1zM238 229h1v1h-1zM119 229h1v1h-1zM152 229h1v1h-1zM77 229h1v1h-1zM63 229h1v1h-1zM240 229h1v1h-1zM127 229h2v1h-2zM130 229h1v1h-1zM99 229h1v1h-1zM75 229h1v1h-1zM121 229h1v1h-1zM132 229h1v1h-1zM154 229h1v1h-1zM79 229h1v1h-1zM101 229h1v1h-1zM123 229h1v1h-1zM156 229h1v1h-1zM242 229h1v1h-1zM81 229h1v1h-1zM103 229h1v1h-1zM136 229h1v1h-1zM244 229h1v1h-1zM253 229h1v1h-1zM420 229h1v1h-1zM250 229h2v1h-2zM134 229h1v1h-1zM125 229h1v1h-1zM158 229h1v1h-1zM422 229h1v1h-1zM83 229h1v1h-1zM105 229h1v1h-1zM138 229h1v1h-1zM160 229h1v1h-1zM246 229h1v1h-1zM85 229h1v1h-1zM107 229h1v1h-1zM140 229h1v1h-1zM162 229h1v1h-1zM248 229h1v1h-1zM65 229h1v1h-1zM424 229h1v1h-1zM164 229h1v1h-1zM426 229h1v1h-1zM87 229h1v1h-1zM109 229h1v1h-1zM142 229h1v1h-1zM67 229h1v1h-1zM111 229h1v1h-1zM108 230h58v1h-58zM420 230h7v1h-7zM63 230h14v1h-14zM241 230h12v1h-12zM144 231h1v1h-1zM69 231h1v1h-1zM148 231h1v1h-1zM146 231h1v1h-1zM115 231h1v1h-1zM117 231h1v1h-1zM150 231h1v1h-1zM119 231h1v1h-1zM152 231h1v1h-1zM127 231h2v1h-2zM130 231h1v1h-1zM132 231h1v1h-1zM121 231h1v1h-1zM154 231h1v1h-1zM123 231h1v1h-1zM156 231h1v1h-1zM136 231h1v1h-1zM134 231h1v1h-1zM125 231h1v1h-1zM158 231h1v1h-1zM422 231h1v1h-1zM246 231h1v1h-1zM138 231h1v1h-1zM424 231h1v1h-1zM140 231h1v1h-1zM65 231h1v1h-1zM426 231h1v1h-1zM142 231h1v1h-1zM67 231h1v1h-1zM422 232h5v1h-5zM121 232h30v1h-30zM424 233h1v1h-1zM136 233h1v1h-1zM134 233h1v1h-1zM132 233h1v1h-1zM138 233h1v1h-1z"/>
</g>
<defs>
<filter id="ct" x="-10%" y="-20%" width="120%" height="140%" color-interpolation-filters="sRGB">
<feFlood flood-color="#c47a35"/><feComposite in2="SourceAlpha" operator="in"/><feOffset dx="-2.6" result="a"/>
<feFlood flood-color="#4a90e0"/><feComposite in2="SourceAlpha" operator="in"/><feOffset dx="2.6" result="b"/>
<feMerge><feMergeNode in="a"/><feMergeNode in="b"/><feMergeNode in="SourceGraphic"/></feMerge>
</filter>
<filter id="cv" x="-5%" y="-20%" width="110%" height="140%" color-interpolation-filters="sRGB">
<feFlood flood-color="#eeb877"/><feComposite in2="SourceAlpha" operator="in"/><feOffset dx="-2.2" result="a"/>
<feFlood flood-color="#6aaef2"/><feComposite in2="SourceAlpha" operator="in"/><feOffset dx="2.2" result="b"/>
<feMerge><feMergeNode in="a"/><feMergeNode in="b"/><feMergeNode in="SourceGraphic"/></feMerge>
</filter>
</defs>
<text transform="scale(0.89 1)" x="140.8 176.2 205.4" y="151.9" font-size="73.2">1.0</text>
<text transform="scale(0.89 1)" x="139.5 176.2 205.4" y="345.7" font-size="73.2">0.8</text>
<text transform="scale(0.89 1)" x="139.5 176.2 204.9" y="535" font-size="73.2">0.6</text>
<text transform="scale(0.89 1)" x="139.5 176.2 207.7" y="724.6" font-size="73.2">0.4</text>
<text transform="scale(0.89 1)" x="139.5 176.2 208.2" y="922.8" font-size="73.2">0.2</text>
<text transform="scale(0.89 1)" x="139.5 176.2 205.4" y="1107.7" font-size="73.2">0.0</text>
<text transform="scale(0.89 1)" x="258.4 296.6 337.3" y="1175.1" font-size="73.2">400</text>
<text transform="scale(0.89 1)" x="871.2 915 961" y="1175.1" font-size="73.2">500</text>
<text transform="scale(0.89 1)" x="1487.5 1528.5 1574.5" y="1175.1" font-size="73.2">600</text>
<text transform="scale(0.89 1)" x="2112.8 2152.2 2192.9" y="1175.1" font-size="73.2">700</text>
<text x="405.2 448.2 473.9 512.1" y="251.1" font-size="73.5">Blue</text>
<text x="903.1 955.8 985.9 1022 1060.2" y="260.2" font-size="73.5">Green</text>
<text x="1507 1554.3 1592.2" y="242" font-size="73.5">Red</text>
<text transform="scale(1.13 1)" x="777 843.4 878 913.9 945.2 969.2 1001.4 1041.3 1077.2 1097.3 1137" y="1255.8" font-size="68" class="b">Wavelength,</text>
<text x="1331.3" y="1256.5" font-size="73">λ</text>
<text x="1397.1 1422.9 1460.1 1515.5" y="1251.5" font-size="61" class="s" filter="url(#ct)">(nm)</text>
<g transform="translate(77 756) rotate(-90)"><text transform="scale(1.1 1)" x="-2.7 51.1 81 97.1 129.3 150.1 169.5 203.5 233.7 247.8 280 314.1 330 367.6" y="0" font-size="68" class="b" filter="url(#cv)">Relative value</text></g>
</svg>
</body></html>
